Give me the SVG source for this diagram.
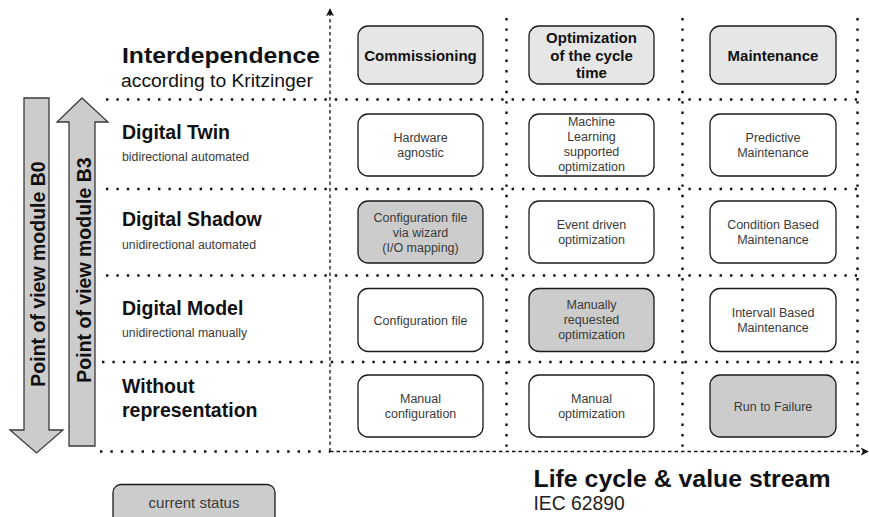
<svg xmlns="http://www.w3.org/2000/svg" width="869" height="517" viewBox="0 0 869 517">
<style>
.bg{fill:#ffffff}
.box{stroke:#1a1a1a;stroke-width:1.3}
.w{fill:#ffffff}
.h{fill:#e6e6e6}
.g{fill:#cccccc}
.t{font-family:"Liberation Sans",Arial,sans-serif;font-size:12.5px;fill:#3a3a3a;text-anchor:middle}
.hb{font-family:"Liberation Sans",Arial,sans-serif;font-size:15px;font-weight:bold;fill:#111111;text-anchor:middle}
.lb{font-family:"Liberation Sans",Arial,sans-serif;font-size:19.5px;font-weight:bold;fill:#111111}
.ls{font-family:"Liberation Sans",Arial,sans-serif;font-size:12.3px;fill:#3a3a3a}
.dot{fill:none;stroke:#111111;stroke-width:2.4;stroke-dasharray:2.4 8}
.dash{fill:none;stroke:#111111;stroke-width:1.3;stroke-dasharray:3.5 3}
.arr{fill:#cccccc;stroke:#3a3a3a;stroke-width:1.3}
</style>
<defs>
<marker id="ah" viewBox="0 0 10 10" refX="9" refY="5" markerWidth="8" markerHeight="8" markerUnits="userSpaceOnUse" orient="auto">
<path d="M0,0 L10,5 L0,10 L2.5,5 Z" fill="#111111"/>
</marker>
</defs>
<rect class="bg" x="0" y="0" width="869" height="517"/>

<g id="grid">
<line class="dot" x1="106" y1="99.5" x2="857" y2="99.5"/>
<line class="dot" x1="106" y1="189" x2="857" y2="189"/>
<line class="dot" x1="106" y1="275.5" x2="857" y2="275.5"/>
<line class="dot" x1="102" y1="362" x2="857" y2="362"/>
<line class="dot" x1="100" y1="451.5" x2="330" y2="451.5"/>
<line class="dot" x1="506.5" y1="18" x2="506.5" y2="451"/>
<line class="dot" x1="682.5" y1="18" x2="682.5" y2="451"/>
<line class="dot" x1="857.5" y1="18" x2="857.5" y2="451"/>
</g>

<g id="connectors">
<line class="dash" x1="330" y1="451.5" x2="330" y2="9" marker-end="url(#ah)"/>
<line class="dash" x1="330" y1="451.5" x2="868" y2="451.5" marker-end="url(#ah)"/>
</g>

<g id="arrow-b0">
<path class="arr" d="M24,98 L49,98 L49,430 L63,430 L36.5,453 L10,430 L24,430 Z"/>
<text class="lb" transform="translate(44.5,274) rotate(-90)" text-anchor="middle">Point of view module B0</text>
</g>
<g id="arrow-b3">
<path class="arr" d="M82,98 L108,122 L95,122 L95,446 L69,446 L69,122 L57,122 Z"/>
<text class="lb" transform="translate(90.5,270) rotate(-90)" text-anchor="middle">Point of view module B3</text>
</g>

<g id="title">
<text class="lb" x="122" y="63.3" style="font-size:22.5px" textLength="198" lengthAdjust="spacingAndGlyphs">Interdependence</text>
<text class="ls" x="121" y="86.5" style="font-size:17.5px;fill:#111111" textLength="192" lengthAdjust="spacingAndGlyphs">according to Kritzinger</text>
</g>

<g id="level-twin">
<text class="lb" x="122" y="139">Digital Twin</text>
<text class="ls" x="122" y="161">bidirectional automated</text>
</g>
<g id="level-shadow">
<text class="lb" x="122" y="226">Digital Shadow</text>
<text class="ls" x="122" y="248.5">unidirectional automated</text>
</g>
<g id="level-model">
<text class="lb" x="122" y="315">Digital Model</text>
<text class="ls" x="122" y="337">unidirectional manually</text>
</g>
<g id="level-none">
<text class="lb" x="122" y="393">Without</text>
<text class="lb" x="122" y="416.5">representation</text>
</g>

<g id="h-commissioning">
<rect class="box h" x="358" y="26" width="125" height="58" rx="10"/>
<text class="hb" x="420.5" y="60.5">Commissioning</text>
</g>
<g id="h-optimization">
<rect class="box h" x="529" y="26" width="125" height="58" rx="10"/>
<text class="hb" x="591.5" y="43">Optimization</text>
<text class="hb" x="591.5" y="60.5">of the cycle</text>
<text class="hb" x="591.5" y="78">time</text>
</g>
<g id="h-maintenance">
<rect class="box h" x="710" y="26" width="126" height="58" rx="10"/>
<text class="hb" x="773" y="60.5">Maintenance</text>
</g>

<g id="n-hardware">
<rect class="box w" x="358" y="114" width="125" height="62" rx="10"/>
<text class="t" x="420.5" y="141.5">Hardware</text>
<text class="t" x="420.5" y="156.5">agnostic</text>
</g>
<g id="n-ml">
<rect class="box w" x="529" y="114" width="125" height="62" rx="10"/>
<text class="t" x="591.5" y="126">Machine</text>
<text class="t" x="591.5" y="141">Learning</text>
<text class="t" x="591.5" y="156">supported</text>
<text class="t" x="591.5" y="171">optimization</text>
</g>
<g id="n-predictive">
<rect class="box w" x="710" y="114" width="126" height="62" rx="10"/>
<text class="t" x="773" y="141.5">Predictive</text>
<text class="t" x="773" y="156.5">Maintenance</text>
</g>

<g id="n-wizard">
<rect class="box g" x="358" y="201" width="125" height="62" rx="10"/>
<text class="t" x="420.5" y="221.5">Configuration file</text>
<text class="t" x="420.5" y="236.5">via wizard</text>
<text class="t" x="420.5" y="251.5">(I/O mapping)</text>
</g>
<g id="n-event">
<rect class="box w" x="529" y="201" width="125" height="62" rx="10"/>
<text class="t" x="591.5" y="229">Event driven</text>
<text class="t" x="591.5" y="244">optimization</text>
</g>
<g id="n-condition">
<rect class="box w" x="710" y="201" width="126" height="62" rx="10"/>
<text class="t" x="773" y="229">Condition Based</text>
<text class="t" x="773" y="244">Maintenance</text>
</g>

<g id="n-config">
<rect class="box w" x="358" y="288.5" width="125" height="63" rx="10"/>
<text class="t" x="420.5" y="325">Configuration file</text>
</g>
<g id="n-manual-req">
<rect class="box g" x="529" y="288.5" width="125" height="63" rx="10"/>
<text class="t" x="591.5" y="309">Manually</text>
<text class="t" x="591.5" y="324">requested</text>
<text class="t" x="591.5" y="339">optimization</text>
</g>
<g id="n-intervall">
<rect class="box w" x="710" y="288.5" width="126" height="63" rx="10"/>
<text class="t" x="773" y="316.5">Intervall Based</text>
<text class="t" x="773" y="331.5">Maintenance</text>
</g>

<g id="n-manual-config">
<rect class="box w" x="358" y="375" width="125" height="62" rx="10"/>
<text class="t" x="420.5" y="402.5">Manual</text>
<text class="t" x="420.5" y="417.5">configuration</text>
</g>
<g id="n-manual-opt">
<rect class="box w" x="529" y="375" width="125" height="62" rx="10"/>
<text class="t" x="591.5" y="402.5">Manual</text>
<text class="t" x="591.5" y="417.5">optimization</text>
</g>
<g id="n-run">
<rect class="box g" x="710" y="375" width="126" height="62" rx="10"/>
<text class="t" x="773" y="410.5">Run to Failure</text>
</g>

<g id="axis-label">
<text class="lb" x="533.5" y="487" style="font-size:23px" textLength="297" lengthAdjust="spacingAndGlyphs">Life cycle &amp; value stream</text>
<text class="ls" x="533.5" y="510" style="font-size:19.3px;fill:#222222">IEC 62890</text>
</g>

<g id="legend">
<rect class="box g" x="113" y="484.5" width="162" height="40" rx="8"/>
<text class="t" x="194" y="508" style="font-size:15px">current status</text>
</g>
</svg>
